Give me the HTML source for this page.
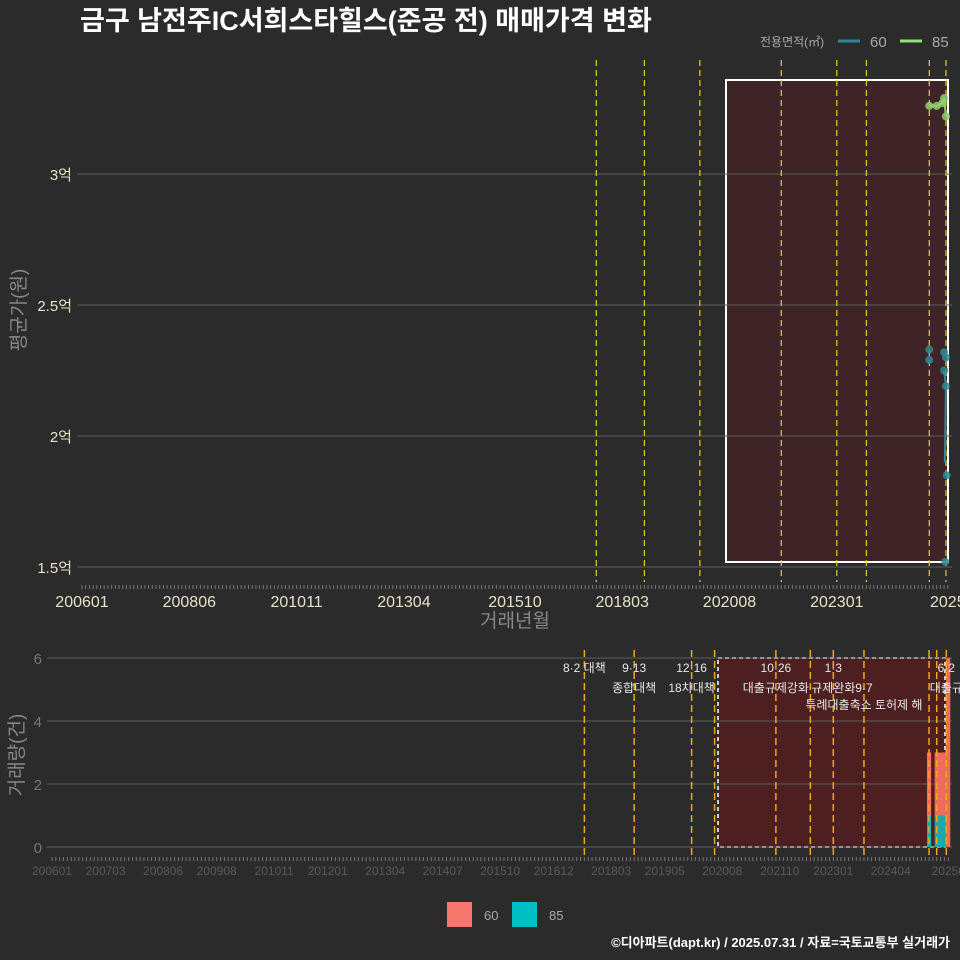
<!DOCTYPE html>
<html><head><meta charset="utf-8"><style>
body{margin:0;background:#2b2b2b;}
svg{display:block;font-family:"Liberation Sans","Noto Sans CJK KR",sans-serif;}
</style></head><body>
<svg id="c" width="960" height="960" xmlns="http://www.w3.org/2000/svg">
<rect width="960" height="960" fill="#2b2b2b"/>
<text x="80" y="30" fill="#ffffff" font-size="27" font-weight="bold">금구 남전주IC서희스타힐스(준공 전) 매매가격 변화</text>
<text x="760" y="46" fill="#aaaaaa" font-size="12">전용면적(㎡)</text>
<line x1="838" y1="41" x2="860" y2="41" stroke="#2a8a93" stroke-width="3"/>
<text x="870" y="47" fill="#aaaaaa" font-size="15">60</text>
<line x1="900" y1="41" x2="922" y2="41" stroke="#8fe07a" stroke-width="3"/>
<text x="932" y="47" fill="#aaaaaa" font-size="15">85</text>
<g id="topg"></g>
<g id="botg"></g>
<text transform="translate(25,310) rotate(-90)" text-anchor="middle" fill="#888" font-size="19">평균가(원)</text>
<text x="515" y="627" text-anchor="middle" fill="#888" font-size="19">거래년월</text>
<text transform="translate(23,755) rotate(-90)" text-anchor="middle" fill="#888" font-size="19">거래량(건)</text>
<rect x="447" y="902" width="25" height="25" fill="#f8766d"/>
<text x="484" y="920" fill="#aaa" font-size="13">60</text>
<rect x="512" y="902" width="25" height="25" fill="#00bfc4"/>
<text x="549" y="920" fill="#aaa" font-size="13">85</text>
<text x="950" y="947" text-anchor="end" fill="#ffffff" font-size="13" font-weight="bold">©디아파트(dapt.kr) / 2025.07.31 / 자료=국토교통부 실거래가</text>
</svg>
<script>
// data (months counted from 200601 = 0)
const yTicks = [1.5, 2, 2.5, 3];
const yTickLabels = ["1.5억", "2억", "2.5억", "3억"];
const topTickMonths = [0, 29, 58, 87, 117, 146, 175, 204, 234];
const topTickLabels = ["200601","200806","201011","201304","201510","201803","202008","202301","2025"];
const botTickMonths = [0,14,29,43,58,72,87,102,117,131,146,160,175,190,204,219,234];
const botTickLabels = ["200601","200703","200806","200908","201011","201201","201304","201407","201510","201612","201803","201905","202008","202110","202301","202404","20250"];
const policyTop = [139, 152, 167, 189, 204, 212, 229, 233.5];
const policyBot = [139, 152, 167, 173, 189, 198, 204, 212, 229, 231, 233.5];
const s60Months = [229, 229, 233, 233, 233.5, 233.5, 233.7, 233.3];
const s60Values = [2.33, 2.29, 2.32, 2.25, 2.3, 2.19, 1.85, 1.52];
const s60LineMonths = [233, 233.5, 233.2];
const s60LineValues = [2.25, 2.19, 1.9];
const s85Months = [229, 231, 232.5, 233, 233.5];
const s85Values = [3.26, 3.26, 3.27, 3.29, 3.22];
const barMonths = [229, 231, 232, 233, 234];
const bar85 = [1, 1, 1, 1, 0];
const bar60 = [2, 2, 2, 2, 6];
const volTicks = [0, 2, 4, 6];
const notes = [
 {m:139, a:"8·2 대책", b:"", c:""},
 {m:152, a:"9·13", b:"종합대책", c:""},
 {m:167, a:"12·16", b:"18차대책", c:""},
 {m:189, a:"10·26", b:"대출규제강화", c:""},
 {m:204, a:"1·3", b:"규제완화", c:""},
 {m:212, a:"", b:"9·7", c:"특례대출축소 토허제 해"},
 {m:233.5, a:"6·2", b:"대출규", c:""}
];
const NS="http://www.w3.org/2000/svg";
function mk(p,t,at){const e=document.createElementNS(NS,t);for(const k in at)e.setAttribute(k,at[k]);p.appendChild(e);return e;}
const topG=document.getElementById('topg'), botG=document.getElementById('botg');
const tx=m=>82+m*3.7, ty=v=>567-(v-1.5)*262;
const bx=m=>52+m*3.83, by=v=>847-v*31.5;
// top panel
let r=mk(topG,'rect',{x:726,y:80,width:222,height:482,fill:'#3e2426',stroke:'#ffffff','stroke-width':2});


yTicks.forEach((v,i)=>{
 let l=mk(topG,'line',{x1:77,x2:952,y1:ty(v),y2:ty(v),stroke:'#5c5c5c','stroke-width':1});
 
 
 let t=mk(topG,'text',{x:72,y:ty(v)+6,'text-anchor':'end',fill:'#e6e3c8','font-size':15});
 t.textContent=yTickLabels[i];
 
 
});
for(let m=0;m<=234;m++){let l=mk(topG,'line',{x1:tx(m),x2:tx(m),y1:585,y2:589,stroke:'#777','stroke-width':1});
 
 }
topTickMonths.forEach((m,i)=>{let t=mk(topG,'text',{x:tx(m),y:607,'text-anchor':'middle',fill:'#e6e3c8','font-size':16});
 t.textContent=topTickLabels[i];
 
 });
policyTop.forEach(m=>{let l=mk(topG,'line',{x1:tx(m),x2:tx(m),y1:60,y2:582,stroke:'#d4c81a','stroke-width':1.3,'stroke-dasharray':'6,4'});
 
 });
function series(ms,vs,lm,lv,col,name){
 let d=lm.map((m,i)=>(i?'L':'M')+tx(m)+','+ty(lv[i])).join(' ');
 let p=mk(topG,'path',{d:d,fill:'none',stroke:col,'stroke-width':2});
 
 
 ms.forEach((m,i)=>{let c=mk(topG,'circle',{cx:tx(m),cy:ty(vs[i]),r:4,fill:col,opacity:0.85});
  
  });
}
series(s60Months,s60Values,s60LineMonths,s60LineValues,'#2a8a93','60');
series(s85Months,s85Values,s85Months,s85Values,'#8fd070','85');
// bottom panel
let r2=mk(botG,'rect',{x:718,y:658,width:227,height:189,fill:'#4e1f20',stroke:'#cccccc','stroke-width':2,'stroke-dasharray':'4,3'});


volTicks.forEach(v=>{
 let l=mk(botG,'line',{x1:47,x2:952,y1:by(v),y2:by(v),stroke:'#5c5c5c','stroke-width':1});
 
 
 let t=mk(botG,'text',{x:42,y:by(v)+6,'text-anchor':'end',fill:'#777','font-size':15});
 t.textContent=v;
 
 
});
for(let m=0;m<=234;m++){let l=mk(botG,'line',{x1:bx(m),x2:bx(m),y1:857,y2:861,stroke:'#777','stroke-width':1});
 
 }
botTickMonths.forEach((m,i)=>{let t=mk(botG,'text',{x:bx(m),y:875,'text-anchor':'middle',fill:'#5a5a5a','font-size':12});
 t.textContent=botTickLabels[i];
 
 });
barMonths.forEach((m,i)=>{
 let w=4.2,x=bx(m)-w/2;
 let a=mk(botG,'rect',{x:x,y:by(bar85[i]),width:w,height:by(0)-by(bar85[i]),fill:'#1fa9ad'});
 
 
 let b=mk(botG,'rect',{x:x,y:by(bar85[i]+bar60[i]),width:w,height:by(bar85[i])-by(bar85[i]+bar60[i]),fill:'#f06a5e'});
 
 
});
policyBot.forEach(m=>{let l=mk(botG,'line',{x1:bx(m),x2:bx(m),y1:650,y2:855,stroke:'#f0a814','stroke-width':1.5,'stroke-dasharray':'7,4'});
 
 });
notes.forEach(n=>{
 const x=bx(n.m);
 [[n.a,672],[n.b,692],[n.c,709]].forEach(([s,y])=>{ if(!s)return;
  let t=mk(botG,'text',{x:x,y:y,'text-anchor':'middle',fill:'#e8e8e8','font-size':12});
  t.textContent=s;
  
  });
});
</script>
</body></html>
